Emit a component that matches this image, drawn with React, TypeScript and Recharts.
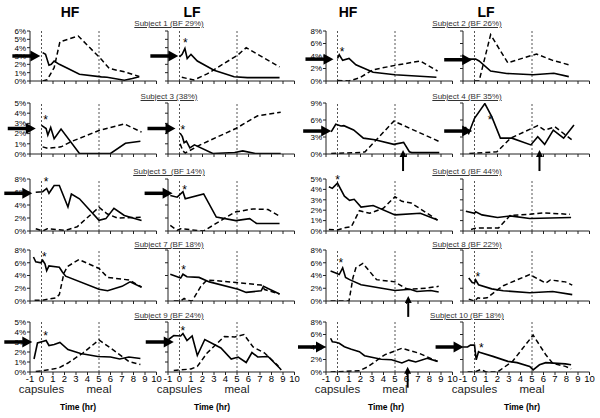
import React from 'react';
import { LineChart, Line, XAxis, YAxis, ReferenceLine, ReferenceDot } from 'recharts';

type Pt = { t: number; v: number };
const pts = (rows: number[][]): Pt[] => rows.map(([t, v]) => ({ t, v }));

const timeTicks = [-1, 0, 1, 2, 3, 4, 5, 6, 7, 8, 9, 10];
const markerTimes = [0, 5];
const markerLabels = ['capsules', 'meal'];
const dietLabels = ['HF', 'LF', 'HF', 'LF'];
const subjectLabels = [
  'Subject 1 (BF 29%)', 'Subject 2 (BF 26%)',
  'Subject 3 (38%)', 'Subject 4 (BF 35%)',
  'Subject 5  (BF 14%)', 'Subject 6 (BF 44%)',
  'Subject 7 (BF 18%)', 'Subject 8 (BF 22%)',
  'Subject 9 (BF 24%)', 'Subject 10 (BF 18%)'
];
const axisTitle = 'Time (hr)';

const pct0to5 = [0, 1, 2, 3, 4, 5];
const pct0to6 = [0, 1, 2, 3, 4, 5, 6];
const pct0to8 = [0, 2, 4, 6, 8];
const pct0to9 = [0, 3, 6, 9];

// Subject 1
const s1HfSolid = pts([[0.1, 3.4], [0.35, 3.2], [0.65, 1.9], [0.85, 2.0], [1.1, 2.4], [1.55, 2.0], [2.3, 1.5], [3.3, 0.8], [5.2, 0.5], [5.7, 0.45], [7.2, 0.1], [7.9, 0.3], [8.5, 0.5]]);
const s1HfDashed = pts([[0.1, 0], [0.5, 0.15], [1.1, 1.6], [1.6, 4.7], [3.2, 5.4], [5.2, 2.6], [5.9, 1.5], [7.2, 1.1], [8.5, 0.55]]);
const s1LfSolid = pts([[0, 2.9], [0.23, 3.2], [0.47, 3.9], [0.67, 2.7], [1.0, 3.2], [1.55, 2.4], [3.0, 1.3], [4.75, 0.5], [5.9, 0.4], [8.7, 0.4]]);
const s1LfDashed = pts([[0.2, 0.45], [1.25, 0.12], [2.4, 0.85], [5.05, 3.1], [5.8, 4.0], [8.7, 1.7]]);
// Subject 2
const s2HfSolid = pts([[0, 3.6], [0.15, 4.2], [0.45, 3.3], [1.0, 3.6], [1.6, 2.6], [3.1, 1.4], [5.0, 1.0], [8.6, 0.6]]);
const s2HfDashed = pts([[0, 0.1], [1.0, 0], [1.9, 0.5], [3.1, 1.8], [5.0, 2.5], [7.2, 3.2], [8.7, 1.6]]);
const s2LfSolid = pts([[-0.8, 3.5], [0.1, 3.5], [0.4, 3.2], [1.4, 1.6], [2.8, 1.2], [5.1, 1.0], [6.9, 1.25], [8.2, 0.7]]);
const s2LfDashed = pts([[0, 0], [0.4, 0], [1.4, 7.4], [2.9, 2.9], [4.8, 4.0], [5.4, 4.3], [6.8, 3.3], [8.2, 2.6]]);
// Subject 3
const s3HfSolid = pts([[0, 2.8], [0.4, 2.5], [0.55, 1.85], [0.8, 2.6], [1.1, 1.5], [1.7, 2.45], [3.3, 0.05], [6.0, 0.05], [7.3, 1.05], [8.6, 1.25]]);
const s3HfDashed = pts([[0.1, 0.7], [0.55, 0.55], [1.7, 0.7], [2.55, 1.2], [5.0, 2.3], [7.2, 2.95], [8.7, 2.15]]);
const s3LfSolid = pts([[0.05, 2.05], [0.25, 1.7], [0.4, 1.1], [0.6, 1.25], [0.9, 0.6], [1.3, 0.9], [2.9, 0.05], [4.8, 0.15], [5.5, 0.3], [6.6, 0.05], [8.8, 0.05]]);
const s3LfDashed = pts([[0.05, 1.0], [0.3, 0.3], [0.5, 0.1], [1.8, 0.9], [4.9, 2.5], [6.8, 3.75], [8.8, 4.1]]);
// Subject 4
const s4HfSolid = pts([[-0.55, 3.9], [-0.15, 5.25], [0.3, 4.95], [0.55, 5.0], [1.4, 4.25], [2.25, 2.8], [3.25, 2.5], [4.9, 1.7], [5.75, 2.05], [6.25, 0.4], [6.45, 0.25], [8.85, 0.25]]);
const s4HfDashed = pts([[-0.55, 0.1], [2.1, 0.25], [2.4, 0.4], [4.9, 5.8], [8.85, 2.2]]);
const s4LfSolid = pts([[-0.8, 4.8], [-0.5, 3.65], [0, 6.3], [0.9, 8.9], [1.5, 6.6], [2.25, 2.8], [3.25, 2.8], [4.9, 1.6], [5.5, 3.05], [6.1, 1.7], [6.85, 4.2], [7.75, 2.8], [8.65, 5.1]]);
const s4LfDashed = pts([[-0.45, 0.1], [1.95, 0.4], [3.15, 2.8], [5.5, 5.0], [6.1, 4.2], [7.0, 4.8], [8.65, 2.2]]);
// Subject 5
const s5HfSolid = pts([[-0.5, 5.95], [0.1, 6.05], [0.45, 6.55], [0.65, 5.8], [1.1, 7.0], [1.55, 7.0], [2.3, 3.7], [2.6, 5.7], [3.3, 4.95], [5.0, 1.65], [5.6, 1.9], [6.3, 3.5], [7.2, 2.4], [8.7, 1.6]]);
const s5HfDashed = pts([[-0.5, 0.35], [0.1, 0], [0.5, 0.35], [2.1, 0.1], [3.1, 0.65], [5.0, 3.65], [5.7, 2.65], [6.6, 2.0], [8.7, 2.1]]);
const s5LfSolid = pts([[-0.8, 5.45], [-0.2, 5.2], [0.3, 6.05], [0.5, 4.95], [2.1, 5.7], [3.2, 2.15], [4.9, 1.6], [6.1, 1.9], [6.7, 1.15], [8.7, 1.15]]);
const s5LfDashed = pts([[-0.8, 0.85], [-0.2, 0.1], [0.1, 0.35], [2.1, 0], [4.8, 2.9], [6.4, 3.4], [7.7, 3.3], [8.6, 2.4]]);
// Subject 6
const s6HfSolid = pts([[-0.75, 4.25], [-0.45, 4.1], [0, 4.6], [0.6, 3.35], [1.05, 2.95], [1.45, 3.05], [2.05, 2.3], [3.1, 2.45], [5.0, 1.55], [7.2, 1.7], [8.7, 1.05]]);
const s6HfDashed = pts([[-0.75, 0.15], [0, 0.1], [0.6, 0.3], [1.2, 0.4], [1.9, 1.95], [2.8, 1.7], [4.0, 2.2], [5.0, 3.3], [5.6, 2.85], [6.4, 2.7], [7.1, 2.2], [8.7, 1.05]]);
const s6LfSolid = pts([[-0.75, 1.9], [0, 1.7], [0.1, 1.85], [0.65, 1.55], [2.0, 1.3], [3.1, 1.45], [4.8, 1.2], [8.4, 1.3]]);
const s6LfDashed = pts([[-0.3, 0.15], [0, 0.25], [0.6, 0.3], [2.1, 0.3], [3.1, 1.5], [4.8, 1.6], [6.0, 1.75], [8.3, 1.6]]);
// Subject 7
const s7HfSolid = pts([[-0.7, 6.9], [-0.5, 6.15], [-0.05, 6.0], [0.1, 6.4], [0.3, 5.85], [0.45, 4.75], [0.65, 5.5], [1.55, 5.3], [1.8, 4.6], [2.1, 3.9], [5.0, 1.85], [5.75, 1.6], [7.0, 2.3], [7.7, 3.0], [8.7, 2.15]]);
const s7HfDashed = pts([[-0.6, 0.1], [0, 0.1], [1.25, 0.5], [1.55, 1.0], [1.95, 4.35], [2.25, 5.4], [3.25, 6.5], [5.0, 5.1], [5.75, 3.7], [7.6, 3.3], [8.7, 2.2]]);
const s7LfSolid = pts([[-0.8, 4.2], [-0.2, 3.8], [0.1, 3.6], [0.3, 4.2], [0.65, 3.8], [1.7, 3.7], [2.6, 3.0], [5.1, 1.85], [5.8, 1.35], [7.1, 1.6], [7.3, 2.3], [8.7, 1.1]]);
const s7LfDashed = pts([[-0.5, 0], [0.1, 0], [0.4, 0.4], [0.65, 0.1], [1.1, 0], [1.85, 2.3], [2.4, 3.3], [4.9, 2.9], [7.1, 2.5], [7.4, 1.8], [8.7, 1.1]]);
// Subject 8
const s8HfSolid = pts([[-0.6, 4.7], [-0.15, 4.4], [0.15, 4.15], [0.45, 5.2], [0.7, 3.7], [1.05, 3.35], [2.05, 2.55], [5.0, 1.65], [6.3, 1.85], [6.9, 1.5], [8.1, 1.65], [8.8, 1.4]]);
const s8HfDashed = pts([[-0.6, 0], [1.0, 0], [1.35, 3.7], [1.6, 5.2], [2.2, 5.9], [3.4, 3.35], [5.0, 3.0], [5.9, 2.0], [6.2, 1.85], [7.7, 2.0], [8.8, 2.3]]);
const s8LfSolid = pts([[-0.5, 3.6], [-0.2, 2.9], [0, 2.8], [0.1, 3.3], [0.35, 2.55], [1.5, 1.9], [2.5, 1.6], [4.8, 1.3], [6.8, 1.5], [8.5, 1.0]]);
const s8LfDashed = pts([[-0.5, 0.3], [0, 0], [0.3, 0.5], [0.65, 0.4], [1.1, 0.5], [2.1, 1.9], [2.5, 2.4], [4.8, 4.15], [6.2, 2.8], [6.6, 3.3], [7.9, 3.0], [8.5, 2.5]]);
// Subject 9
const s9HfSolid = pts([[-0.65, 1.3], [-0.35, 2.9], [0.1, 3.05], [0.4, 3.15], [0.65, 2.65], [1.1, 2.75], [1.6, 2.95], [2.3, 2.25], [3.4, 1.85], [4.9, 1.55], [6.0, 1.5], [6.8, 1.3], [7.6, 1.5], [8.6, 1.35]]);
const s9HfDashed = pts([[-0.5, 0.05], [0.2, 0.15], [1.5, 0.4], [2.3, 0.9], [3.6, 1.9], [5.0, 3.2], [6.0, 2.4], [7.6, 1.05], [8.6, 0.75]]);
const s9LfSolid = pts([[-0.95, 3.25], [-0.5, 3.65], [0.1, 3.6], [0.3, 3.85], [0.65, 3.15], [1.1, 3.6], [1.55, 1.65], [2.2, 3.25], [3.6, 2.4], [4.5, 1.3], [5.1, 1.5], [5.8, 0.95], [6.3, 1.95], [6.8, 1.5], [7.7, 1.55], [8.7, 0.4], [8.85, 0.2]]);
const s9LfDashed = pts([[-0.5, 0.15], [1.0, 0.3], [1.55, 0.55], [2.4, 1.9], [3.9, 3.55], [4.8, 3.5], [5.6, 3.75], [6.4, 2.5], [7.4, 1.9], [8.6, 0.6]]);
// Subject 10
const s10HfSolid = pts([[-0.6, 5.4], [-0.45, 4.85], [-0.15, 4.75], [0.15, 4.6], [0.6, 4.05], [1.2, 3.65], [1.9, 3.25], [2.35, 2.6], [3.8, 2.05], [4.7, 1.95], [5.6, 1.45], [6.2, 1.9], [6.8, 1.6], [7.8, 2.2], [8.7, 1.7]]);
const s10HfDashed = pts([[-0.6, 0], [1.9, 0.2], [2.6, 0.8], [4.1, 2.75], [5.6, 3.8], [7.1, 3.0], [7.7, 2.5], [8.7, 1.7]]);
const s10LfSolid = pts([[-1.05, 4.0], [-0.6, 4.0], [-0.35, 4.3], [0, 4.3], [0.15, 1.95], [0.35, 3.25], [0.5, 3.1], [1.6, 2.5], [2.9, 1.7], [3.7, 1.5], [4.8, 0.9], [5.1, 0.35], [5.65, 1.15], [6.2, 1.5], [7.9, 1.3], [8.4, 1.15]]);
const s10LfDashed = pts([[-0.6, 0], [0, 0], [0.55, 0.4], [1.0, 0], [2.0, 0], [3.3, 1.7], [5.1, 5.9], [6.2, 2.75], [6.8, 1.4], [7.9, 0.9], [8.4, 0.5]]);

type Panel = { solid: Pt[]; dashed: Pt[]; yTicks: number[]; arrow?: Pt; star?: Pt; up?: Pt };
const P = (t: number, v: number): Pt => ({ t, v });

const panels: Panel[][] = [
  [
    { solid: s1HfSolid, dashed: s1HfDashed, yTicks: pct0to6, arrow: P(-0.1, 3) },
    { solid: s1LfSolid, dashed: s1LfDashed, yTicks: pct0to6, arrow: P(-0.1, 3), star: P(0.5, 4.9) },
    { solid: s2HfSolid, dashed: s2HfDashed, yTicks: pct0to8, arrow: P(-0.35, 3.5), star: P(0.4, 5.1) },
    { solid: s2LfSolid, dashed: s2LfDashed, yTicks: pct0to8, arrow: P(-0.2, 3.4) }
  ],
  [
    { solid: s3HfSolid, dashed: s3HfDashed, yTicks: pct0to5, arrow: P(-0.5, 2.5), star: P(0.35, 3.6) },
    { solid: s3LfSolid, dashed: s3LfDashed, yTicks: pct0to5, arrow: P(-0.35, 2.5), star: P(0.3, 2.6) },
    { solid: s4HfSolid, dashed: s4HfDashed, yTicks: pct0to9, arrow: P(-0.55, 4.05), up: P(5.7, 0.7) },
    { solid: s4LfSolid, dashed: s4LfDashed, yTicks: pct0to9, arrow: P(-0.2, 4.05), star: P(1.35, 6.6), up: P(5.65, 0.7) }
  ],
  [
    { solid: s5HfSolid, dashed: s5HfDashed, yTicks: pct0to8, arrow: P(-0.8, 5.8), star: P(0.4, 8.0) },
    { solid: s5LfSolid, dashed: s5LfDashed, yTicks: pct0to8, arrow: P(-0.6, 5.8), star: P(0.45, 6.8) },
    { solid: s6HfSolid, dashed: s6HfDashed, yTicks: pct0to5, star: P(0, 5.2) },
    { solid: s6LfSolid, dashed: s6LfDashed, yTicks: pct0to5 }
  ],
  [
    { solid: s7HfSolid, dashed: s7HfDashed, yTicks: pct0to8, star: P(0.25, 7.4) },
    { solid: s7LfSolid, dashed: s7LfDashed, yTicks: pct0to8, star: P(0.35, 5.4) },
    { solid: s8HfSolid, dashed: s8HfDashed, yTicks: pct0to8, star: P(0.3, 6.4), up: P(6.15, 0.8) },
    { solid: s8LfSolid, dashed: s8LfDashed, yTicks: pct0to8, star: P(0.3, 4.3) }
  ],
  [
    { solid: s9HfSolid, dashed: s9HfDashed, yTicks: pct0to5, arrow: P(-0.8, 3), star: P(0.35, 3.9) },
    { solid: s9LfSolid, dashed: s9LfDashed, yTicks: pct0to5, arrow: P(-0.5, 3), star: P(0.3, 4.4) },
    { solid: s10HfSolid, dashed: s10HfDashed, yTicks: pct0to8, arrow: P(-1, 4), up: P(6.1, 0.85) },
    { solid: s10LfSolid, dashed: s10LfDashed, yTicks: pct0to8, arrow: P(-0.95, 4), star: P(0.6, 4.3) }
  ]
];

// layout
const FONT = 'Arial, "Liberation Sans", sans-serif';
const colLeft = [29.5, 167.5, 325.5, 462.5];
const rowTop = [31, 103, 179, 250, 322];
const rowH = [50, 51, 52, 51, 50];
const plotW = 126.5;
const yAxisW = 30;
const dietX = [70, 192, 348, 486];
const subjectX = [169, 467];
const subjectY = [24, 97, 172, 245, 316];
const titleX = [78, 212, 386, 522];

const renderArrow = (props: any) => {
  const { cx, cy } = props;
  return (
    <g>
      <line x1={cx - 28} y1={cy} x2={cx - 8} y2={cy} stroke="#000" strokeWidth={3.5} />
      <path d={`M${cx},${cy} L${cx - 10},${cy - 5.5} L${cx - 10},${cy + 5.5} Z`} fill="#000" />
    </g>
  );
};

const renderUpArrow = (props: any) => {
  const { cx, cy } = props;
  return (
    <g>
      <line x1={cx} y1={cy + 5} x2={cx} y2={cy + 21} stroke="#000" strokeWidth={2} />
      <path d={`M${cx},${cy} L${cx - 3.5},${cy + 7} L${cx + 3.5},${cy + 7} Z`} fill="#000" />
    </g>
  );
};

const renderStar = (props: any) => (
  <text x={props.cx} y={props.cy + 7} textAnchor="middle" fontSize={12} fontFamily={FONT} fill="#000">
    *
  </text>
);

const PanelChart = ({ p, row, col }: { p: Panel; row: number; col: number }) => {
  const bottom = row === 4;
  const mTop = 14;
  const xH = bottom ? 14 : 4;
  const mBottom = bottom ? 26 : 24;
  const h = mTop + rowH[row] + xH + mBottom;
  const w = yAxisW + plotW + 6;
  const yMax = p.yTicks[p.yTicks.length - 1];
  const labelled = col % 2 === 0;
  return (
    <div style={{ position: 'absolute', left: colLeft[col] - yAxisW, top: rowTop[row] - mTop }}>
      <LineChart width={w} height={h} margin={{ top: mTop, right: 6, bottom: mBottom, left: 0 }}>
        <XAxis
          type="number"
          dataKey="t"
          domain={[-1, 10]}
          ticks={timeTicks}
          interval={0}
          height={xH}
          tickSize={3}
          tickMargin={0}
          stroke="#222"
          tick={{ fontSize: 9.5, fill: '#000', fontFamily: FONT }}
          tickFormatter={bottom ? (v: number) => `${v}` : () => ''}
          allowDataOverflow
        />
        <YAxis
          type="number"
          domain={[0, yMax]}
          ticks={p.yTicks}
          interval={0}
          width={yAxisW}
          tickSize={3}
          tickMargin={1}
          stroke="#222"
          tick={{ fontSize: 8, fill: '#000', fontFamily: FONT }}
          tickFormatter={labelled ? (v: number) => `${v}%` : () => ''}
          allowDataOverflow
        />
        {markerTimes.map((m, i) => (
          <ReferenceLine
            key={m}
            x={m}
            stroke="#555"
            strokeDasharray="2 2"
            label={
              bottom
                ? { value: markerLabels[i], position: 'bottom', offset: 13, fontSize: 11.5, fill: '#222', fontFamily: FONT }
                : undefined
            }
          />
        ))}
        <Line data={p.solid} dataKey="v" type="linear" stroke="#000" strokeWidth={1.6} dot={false} isAnimationActive={false} />
        <Line data={p.dashed} dataKey="v" type="linear" stroke="#000" strokeWidth={1.5} strokeDasharray="5 3" dot={false} isAnimationActive={false} />
        {p.arrow && <ReferenceDot x={p.arrow.t} y={p.arrow.v} ifOverflow="visible" shape={renderArrow} />}
        {p.up && <ReferenceDot x={p.up.t} y={p.up.v} ifOverflow="visible" shape={renderUpArrow} />}
        {p.star && <ReferenceDot x={p.star.t} y={p.star.v} ifOverflow="visible" shape={renderStar} />}
      </LineChart>
    </div>
  );
};

export default function App() {
  return (
    <div
      style={{
        position: 'absolute',
        left: 0,
        top: 0,
        width: 600,
        height: 418,
        overflow: 'hidden',
        background: '#fff',
        fontFamily: FONT
      }}
    >
      {dietLabels.map((d, i) => (
        <div
          key={i}
          style={{ position: 'absolute', left: dietX[i], top: 3, transform: 'translateX(-50%)', fontSize: 14, fontWeight: 'bold', lineHeight: '18px' }}
        >
          {d}
        </div>
      ))}
      {subjectLabels.map((s, i) => (
        <div
          key={s}
          style={{
            position: 'absolute',
            left: subjectX[i % 2],
            top: subjectY[Math.floor(i / 2)] - 5,
            transform: 'translateX(-50%)',
            fontSize: 8,
            lineHeight: '10px',
            color: '#333',
            textDecoration: 'underline',
            whiteSpace: 'pre'
          }}
        >
          {s}
        </div>
      ))}
      {panels.map((rowPanels, r) => rowPanels.map((p, c) => <PanelChart key={`${r}-${c}`} p={p} row={r} col={c} />))}
      {titleX.map((x, i) => (
        <div
          key={i}
          style={{ position: 'absolute', left: x, top: 402, transform: 'translateX(-50%)', fontSize: 8.5, fontWeight: 'bold', lineHeight: '11px', whiteSpace: 'nowrap' }}
        >
          {axisTitle}
        </div>
      ))}
    </div>
  );
}
